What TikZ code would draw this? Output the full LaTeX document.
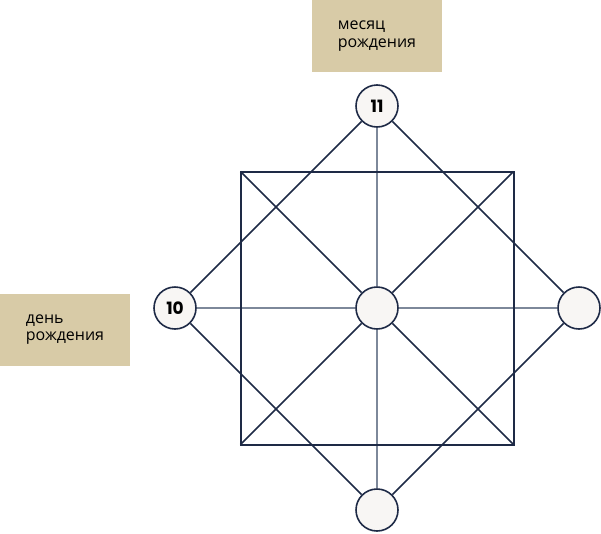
\documentclass[tikz,border=0pt]{standalone}
\usepackage{fontspec}
\setmainfont{Open Sans}
\newfontfamily\numfont{Poppins}
\definecolor{navy}{HTML}{1E2A46}
\definecolor{axisgray}{HTML}{7D889A}
\definecolor{sand}{HTML}{D8CBA7}
\definecolor{pearl}{HTML}{F8F6F4}
\begin{document}
\begin{tikzpicture}[x=1pt,y=-1pt,
    dot/.style={circle,draw=navy,line width=1.6pt,fill=pearl,minimum size=42pt,inner sep=0pt,
      font=\numfont\bfseries\fontsize{17}{17}\selectfont},
    tag/.style={fill=sand,minimum width=130pt,minimum height=72pt,align=left,
      font=\fontsize{16}{17.5}\selectfont},
    edge/.style={navy,line width=1.7pt},
    axis/.style={axisgray,line width=1.3pt}]
  \useasboundingbox (0,0) rectangle (601,533);
  % square corners
  \coordinate (sqA) at (240.5,171.5);
  \coordinate (sqB) at (513.5,171.5);
  \coordinate (sqC) at (513.5,444.5);
  \coordinate (sqD) at (240.5,444.5);
  % circles
  \node[dot] (c) at (377,308) {};
  \node[dot] (t) at (377,106) {11};
  \node[dot] (b) at (377,510) {};
  \node[dot] (l) at (175,308) {10};
  \node[dot] (r) at (579,308) {};
  % labels
  \node[tag] (month) at (377,36) {месяц\\рождения};
  \node[tag] (day) at (65,329.5) {день\\рождения};
  % axes
  \draw[axis] (t) -- (c);
  \draw[axis] (c) -- (b);
  \draw[axis] (l) -- (c);
  \draw[axis] (c) -- (r);
  % square and diagonals
  \draw[edge,line width=2pt] (sqA) -- (sqB) -- (sqC) -- (sqD) -- cycle;
  \draw[edge] (sqA) -- (c);
  \draw[edge] (c) -- (sqC);
  \draw[edge] (sqB) -- (c);
  \draw[edge] (c) -- (sqD);
  % diamond
  \draw[edge] (t) -- (l);
  \draw[edge] (t) -- (r);
  \draw[edge] (b) -- (l);
  \draw[edge] (b) -- (r);
\end{tikzpicture}
\end{document}
